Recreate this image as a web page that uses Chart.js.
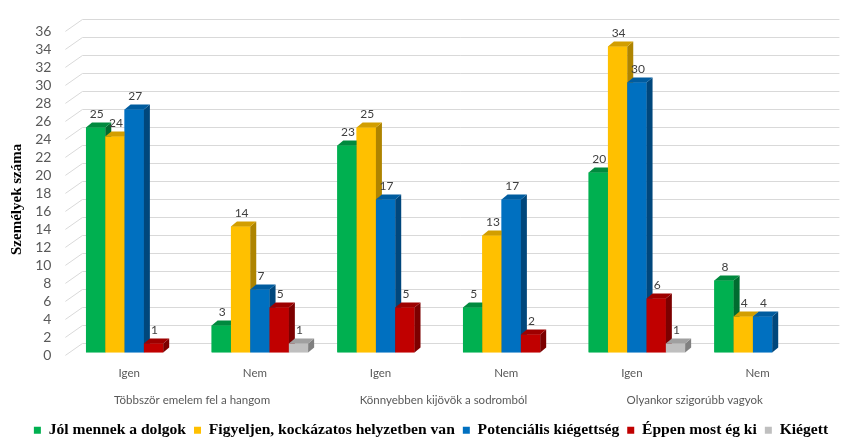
<!DOCTYPE html>
<html>
<head>
<meta charset="utf-8">
<script src="https://cdn.jsdelivr.net/npm/chart.js@4.4.1/dist/chart.umd.min.js"></script>
<style>
  html, body { margin: 0; padding: 0; background: #fff; }
  #wrap { width: 844px; height: 442px; }
</style>
</head>
<body>
<div id="wrap"><canvas id="chart"></canvas></div>
<script>
// ---- data ----
const answers = ['Igen', 'Nem', 'Igen', 'Nem', 'Igen', 'Nem'];
const questions = ['Többször emelem fel a hangom', 'Könnyebben kijövök a sodromból', 'Olyankor szigorúbb vagyok'];
const seriesNames = ['Jól mennek a dolgok', 'Figyeljen, kockázatos helyzetben van', 'Potenciális kiégettség', 'Éppen most ég ki', 'Kiégett'];
const jolMennek   = [25, 3, 23, 5, 20, 8];
const figyeljen   = [24, 14, 25, 13, 34, 4];
const potencialis = [27, 7, 17, 17, 30, 4];
const eppenMost   = [1, 5, 5, 2, 6, null];
const kiegett     = [null, 1, null, null, 1, null];
const yMax = 36;
const yStep = 2;
const yTitle = 'Személyek száma';

// colours: front, top, side
const colors = [
  ['#00B050', '#008A3E', '#006C30'],
  ['#FFC000', '#D29E00', '#AE8400'],
  ['#0070C0', '#005C9F', '#00477C'],
  ['#C00000', '#9E0000', '#7C0000'],
  ['#BFBFBF', '#A0A0A0', '#808080']
];

const seriesValues = [jolMennek, figyeljen, potencialis, eppenMost, kiegett];

/**
 * Grid with a slanted left wall, like the Excel 3D column chart
 */
const grid3d = {
  id: 'grid3d',
  beforeDatasetsDraw(chart) {
    const ctx = chart.ctx;
    const area = chart.chartArea;
    const ys = chart.scales.y;
    ctx.save();
    ctx.strokeStyle = '#d9d9d9';
    ctx.lineWidth = 1;
    ys.ticks.forEach(t => {
      const yv = ys.getPixelForValue(t.value);
      const back = Math.round(yv - 9.5) + 0.5;
      ctx.beginPath();
      ctx.moveTo(area.left - 6, yv + 3);
      ctx.lineTo(area.left + 11, back);
      ctx.lineTo(area.right + 14, back);
      ctx.stroke();
    });

    // rotated axis title, a bit below the middle like in Excel
    ctx.translate(17, (area.top + area.bottom) / 2 + 9);
    ctx.rotate(-Math.PI / 2);
    ctx.font = 'bold 15px "Liberation Serif", serif';
    ctx.fillStyle = '#000';
    ctx.textAlign = 'center';
    ctx.textBaseline = 'middle';
    ctx.fillText(yTitle, 0, 0);
    ctx.restore();
  }
};

/**
 * Redraw bars left to right with top and side faces, then value labels
 */
const bars3d = {
  id: 'bars3d',
  afterDatasetsDraw(chart) {
    const ctx = chart.ctx;
    const dx = 6, dy = 5;
    ctx.save();
    chart.data.datasets.forEach((ds, i) => {
      const meta = chart.getDatasetMeta(i);
      const [front, top, side] = colors[i];
      meta.data.forEach((el, j) => {
        if (ds.data[j] == null) return;
        const l = el.x - el.width / 2;
        const r = el.x + el.width / 2;
        const y = el.y, b = el.base;
        ctx.fillStyle = front;
        ctx.fillRect(l, y, r - l, b - y);
        ctx.fillStyle = side;
        ctx.beginPath();
        ctx.moveTo(r, y); ctx.lineTo(r + dx, y - dy); ctx.lineTo(r + dx, b - dy); ctx.lineTo(r, b);
        ctx.closePath(); ctx.fill();
        ctx.fillStyle = top;
        ctx.beginPath();
        ctx.moveTo(l, y); ctx.lineTo(r, y); ctx.lineTo(r + dx, y - dy); ctx.lineTo(l + dx, y - dy);
        ctx.closePath(); ctx.fill();
      });
    });
    // value labels
    ctx.font = '12px Lato';
    ctx.fillStyle = '#404040';
    ctx.textAlign = 'center';
    ctx.textBaseline = 'alphabetic';
    chart.data.datasets.forEach((ds, i) => {
      const meta = chart.getDatasetMeta(i);
      meta.data.forEach((el, j) => {
        if (ds.data[j] == null) return;
        ctx.fillText(String(ds.data[j]), el.x + 1, el.y - 9);
      });
    });
    ctx.restore();
  }
};

const ctx = document.getElementById('chart').getContext('2d');
new Chart(ctx, {
  type: 'bar',
  data: {
    labels: answers,
    datasets: seriesValues.map((vals, i) => ({
      label: seriesNames[i],
      data: vals,
      backgroundColor: colors[i][0],
      borderWidth: 0,
      barPercentage: 1,
      categoryPercentage: 0.768
    }))
  },
  options: {
    responsive: true,
    maintainAspectRatio: false,
    animation: false,
    devicePixelRatio: 1,
    layout: { padding: { top: 21, right: 0, left: 18, bottom: -6 } },
    plugins: {
      tooltip: { enabled: false },
      legend: {
        position: 'bottom',
        labels: {
          boxWidth: 7,
          boxHeight: 7,
          padding: 8,
          color: '#000',
          font: { family: '"Liberation Serif", serif', size: 15.6, weight: 'bold' }
        }
      }
    },
    scales: {
      x: {
        grid: { display: false, drawTicks: false },
        border: { display: false },
        ticks: {
          color: '#595959',
          font: { family: 'Lato', size: 11.5 },
          padding: 14,
          labelOffset: -5,
          maxRotation: 0,
          autoSkip: false
        },
        afterFit(scale) { scale.height = 27; }
      },
      x2: {
        type: 'category',
        labels: questions,
        position: 'bottom',
        offset: true,
        grid: { display: false, drawTicks: false },
        border: { display: false },
        ticks: {
          color: '#595959',
          font: { family: 'Lato', size: 11.5 },
          padding: 14,
          labelOffset: -5,
          maxRotation: 0,
          autoSkip: false
        },
        afterFit(scale) { scale.height = 35; }
      },
      y: {
        min: 0,
        max: yMax,
        grid: { display: false, drawTicks: false },
        border: { display: false },
        ticks: {
          stepSize: yStep,
          autoSkip: false,
          color: '#595959',
          font: { family: 'Lato', size: 14 },
          padding: 20,
          labelOffset: 3
        },
        afterFit(scale) { scale.width = 53.4; }
      },
      // empty right-hand strip so the plot ends where the reference does
      yr: {
        position: 'right',
        grid: { display: false, drawTicks: false },
        border: { display: false },
        ticks: { display: false },
        afterFit(scale) { scale.width = 18.6; }
      }
    }
  },
  plugins: [grid3d, bars3d]
});
</script>
</body>
</html>
